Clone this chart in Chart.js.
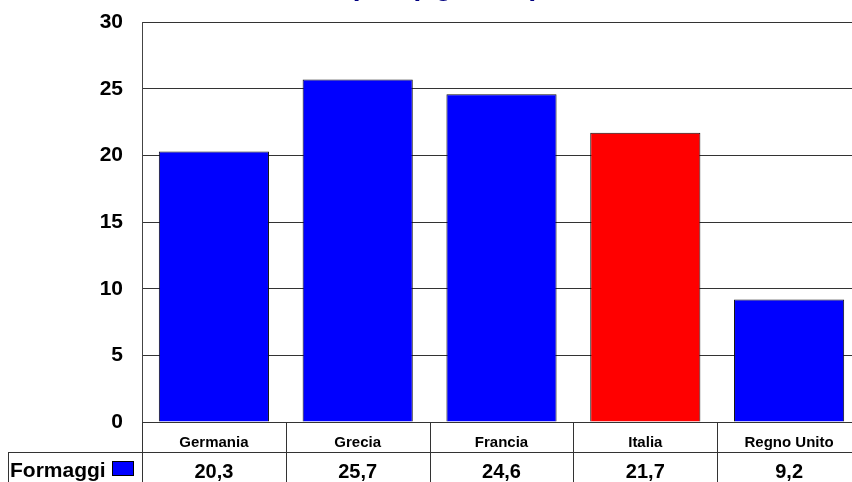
<!DOCTYPE html>
<html>
<head>
<meta charset="utf-8">
<script src="https://cdn.jsdelivr.net/npm/chart.js@4"></script>
<style>
    html, body { margin: 0; padding: 0; background: #fff; overflow: hidden; }
    #wrap { position: relative; width: 852px; height: 482px; overflow: hidden; }
    #chart { position: absolute; left: 0; top: -67px; }
</style>
</head>
<body>
<div id="wrap"><canvas id="chart" width="866" height="549"></canvas></div>
<script>
// Data
const categories = ['Germania', 'Grecia', 'Francia', 'Italia', 'Regno Unito'];
const seriesName = 'Formaggi';
const values = [20.3, 25.7, 24.6, 21.7, 9.2];
const barColors = ['#0000ff', '#0000ff', '#0000ff', '#ff0000', '#0000ff'];
const yTicks = [0, 5, 10, 15, 20, 25, 30];
const titleLines = ['Consumo di formaggi pro', 'capite (kg, 2000)'];

const fmt = v => v.toFixed(1).replace('.', ',');

// Draws the data table under the x axis (legend cell + values row + cell lines)
const dataTable = {
    id: 'dataTable',
    afterDraw(chart) {
        const ctx = chart.ctx;
        const x = chart.scales.x;
        const area = chart.chartArea;
        const half = (x.getPixelForValue(1) - x.getPixelForValue(0)) / 2;
        const rowTop = area.bottom;
        const rowMid = rowTop + 30;
        const bottom = chart.height;

        ctx.save();
        ctx.strokeStyle = '#333';
        ctx.lineWidth = 1;
        ctx.beginPath();
        // cell separators
        for (let i = 0; i <= categories.length; i++) {
            const px = Math.round(x.getPixelForValue(i) - half) + 0.5;
            ctx.moveTo(px, rowTop);
            ctx.lineTo(px, bottom);
        }
        // row line + legend cell
        ctx.moveTo(8, rowMid + 0.5);
        ctx.lineTo(chart.width, rowMid + 0.5);
        ctx.moveTo(8.5, rowMid);
        ctx.lineTo(8.5, bottom);
        ctx.stroke();

        // legend label
        ctx.fillStyle = '#000';
        ctx.font = 'bold 21px Arial, "Liberation Sans", sans-serif';
        ctx.textBaseline = 'middle';
        ctx.textAlign = 'left';
        ctx.fillText(seriesName, 10, rowMid + 19);
        ctx.fillStyle = barColors[0];
        ctx.fillRect(112, rowMid + 9, 22, 15);
        ctx.strokeStyle = '#000';
        ctx.strokeRect(112.5, rowMid + 9.5, 21, 14);

        // values
        ctx.fillStyle = '#000';
        ctx.font = 'bold 20px Arial, "Liberation Sans", sans-serif';
        ctx.textAlign = 'center';
        values.forEach((v, i) => {
            ctx.fillText(fmt(v), x.getPixelForValue(i), rowMid + 20);
        });
        ctx.restore();
    }
};

new Chart(document.getElementById('chart'), {
    type: 'bar',
    data: {
        labels: categories,
        datasets: [{
            label: seriesName,
            data: values,
            backgroundColor: barColors,
            borderColor: '#111',
            borderWidth: 1,
            categoryPercentage: 0.766,
            barPercentage: 1
        }]
    },
    options: {
        responsive: false,
        animation: false,
        layout: { padding: { left: 0, right: 5, top: 0, bottom: 0 } },
        plugins: {
            legend: { display: false },
            tooltip: { enabled: false },
            title: {
                display: true,
                text: titleLines,
                color: '#000080',
                font: { family: 'Arial, "Liberation Sans", sans-serif', size: 28, weight: 'bold', lineHeight: 1.2 },
                padding: { top: 4, bottom: 18 }
            }
        },
        scales: {
            x: {
                grid: { display: false },
                border: { display: false },
                ticks: {
                    color: '#000',
                    padding: 4,
                    font: { family: 'Arial, "Liberation Sans", sans-serif', size: 15, weight: 'bold' }
                },
                afterFit(scale) { scale.height = 60; }
            },
            y: {
                min: 0,
                max: 30,
                afterBuildTicks(scale) { scale.ticks = yTicks.map(v => ({ value: v })); },
                grid: { color: '#333', lineWidth: 1, drawTicks: false },
                border: { color: '#444', width: 1 },
                ticks: {
                    color: '#000',
                    padding: 19,
                    font: { family: 'Arial, "Liberation Sans", sans-serif', size: 21, weight: 'bold' }
                },
                afterFit(scale) { scale.width = 142; }
            }
        }
    },
    plugins: [dataTable]
});
</script>
</body>
</html>
